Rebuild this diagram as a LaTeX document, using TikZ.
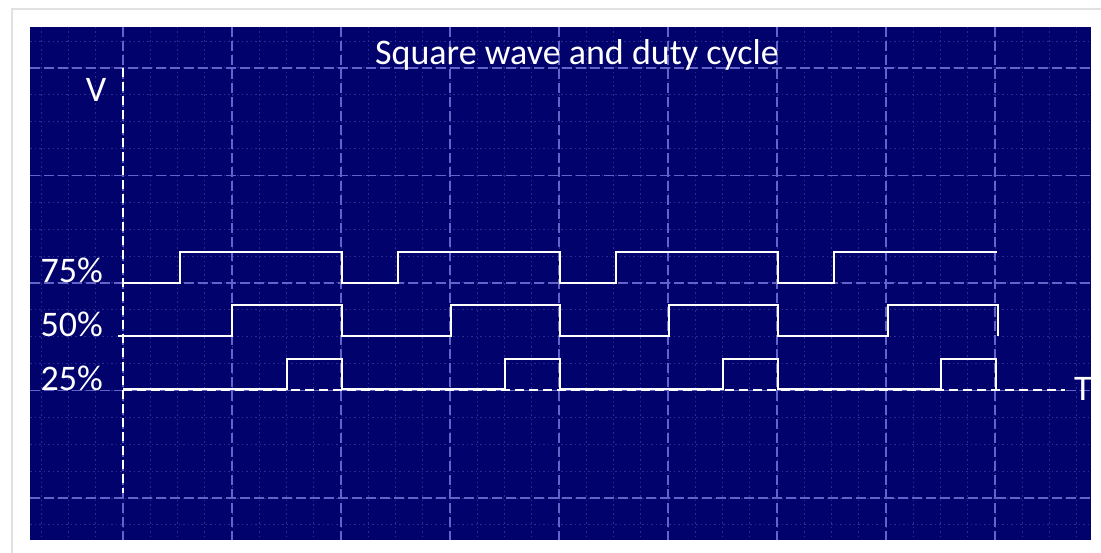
\documentclass[tikz,border=0pt]{standalone}
\usepackage{fontspec}
\setmainfont{Carlito}
\definecolor{scopebg}{RGB}{2,2,108}
\definecolor{gridmajor}{RGB}{100,100,200}
\definecolor{gridminor}{RGB}{45,45,145}
\definecolor{shadowgray}{RGB}{225,225,225}
\begin{document}
\begin{tikzpicture}[x=1pt,y=-1pt,
  minorgrid/.style={gridminor,line width=1pt,dash pattern=on 1.5pt off 3pt},
  majorgrid/.style={gridmajor,line width=1.6pt,dash pattern=on 10pt off 4pt},
  axisline/.style={white,line width=2.8pt,dash pattern=on 9pt off 5pt},
  wave/.style={white,line width=2.4pt,line join=miter},
  lbl/.style={white,inner sep=0pt,font=\fontsize{36}{42}\selectfont},
  ttl/.style={white,inner sep=0pt,font=\fontsize{36}{42}\selectfont}]
\useasboundingbox (0,0) rectangle (1101,553);
\fill[white] (0,0) rectangle (1101,553);
% faint frame shadow
\draw[shadowgray,line width=1.5pt] (12,553) -- (12,9) -- (1101,9);
% scope background
\fill[scopebg] (30,27) rectangle (1091,540);
% minor grid
\foreach \k in {-3,...,35} {
  \draw[minorgrid] ({123+27.25*\k},27) -- ({123+27.25*\k},540);
}
\foreach \k in {-1,...,17} {
  \draw[minorgrid] (30,{68+26.875*\k}) -- (1091,{68+26.875*\k});
}
% major grid
\foreach \m in {0,...,8} {
  \draw[majorgrid] ({123+109*\m},27) -- ({123+109*\m},540);
}
\foreach \m in {0,...,4} {
  \draw[majorgrid] (30,{68+107.5*\m}) -- (1091,{68+107.5*\m});
}
% axes
\coordinate (vtop) at (123,68);
\coordinate (vbot) at (123,493);
\coordinate (torig) at (123,390);
\coordinate (tend) at (1065,390);
\draw[axisline] (vtop) -- (vbot);
\draw[axisline] (torig) -- (tend);
% waves
\draw[wave] (123,283) -- (180,283) -- (180,252) -- (342,252) -- (342,283)
  -- (398,283) -- (398,252) -- (560,252) -- (560,283)
  -- (616,283) -- (616,252) -- (778,252) -- (778,283)
  -- (834,283) -- (834,252) -- (997,252);
\draw[wave] (118,336) -- (232,336) -- (232,305) -- (342,305) -- (342,336)
  -- (451,336) -- (451,305) -- (560,305) -- (560,336)
  -- (669,336) -- (669,305) -- (778,305) -- (778,336)
  -- (888,336) -- (888,305) -- (998,305) -- (998,336);
\draw[wave] (123,389) -- (287,389) -- (287,359) -- (342,359) -- (342,389)
  -- (505,389) -- (505,359) -- (560,359) -- (560,389)
  -- (723,389) -- (723,359) -- (778,359) -- (778,389)
  -- (941,389) -- (941,359) -- (996,359) -- (996,389);
% labels
\node[ttl,anchor=base] (title) at (577,65) {Square wave and duty cycle};
\node[lbl,anchor=base] (vlab) at (96,102) {V};
\node[lbl,anchor=base east] (l75) at (103,283) {75\%};
\node[lbl,anchor=base east] (l50) at (103,337) {50\%};
\node[lbl,anchor=base east] (l25) at (103,391) {25\%};
\node[lbl,anchor=base west] (tlab) at (1074,400) {T};
\end{tikzpicture}
\end{document}
